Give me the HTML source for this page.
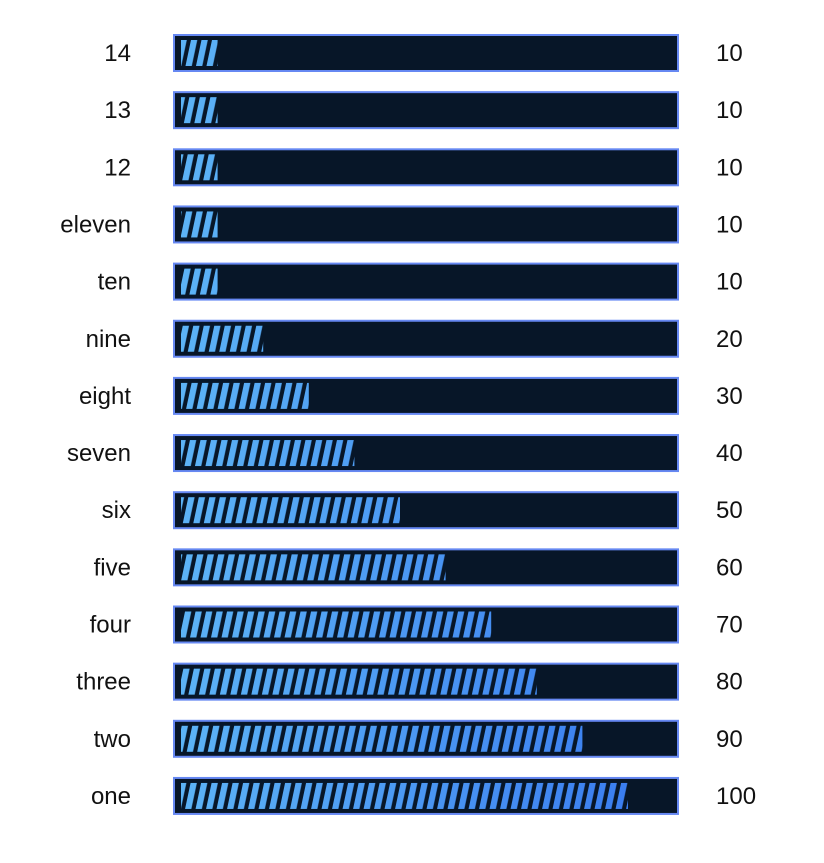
<!DOCTYPE html>
<html><head><meta charset="utf-8"><style>
body{margin:0;background:#fff;width:824px;height:858px;overflow:hidden;font-family:"Liberation Sans",sans-serif}
</style></head><body>
<svg id="chart" width="824" height="858" xmlns="http://www.w3.org/2000/svg">
<defs>
<linearGradient id="grad" x1="181" x2="627" gradientUnits="userSpaceOnUse">
<stop offset="0" stop-color="#5cb3f6"/><stop offset="1" stop-color="#3b7ef0"/>
</linearGradient>
<pattern id="stripes" patternUnits="userSpaceOnUse" width="10.5" height="40" patternTransform="skewX(-12)">
<rect x="0" y="0" width="6.3" height="40" fill="#fff"/>
</pattern>
<mask id="stripeMask" maskUnits="userSpaceOnUse" x="0" y="0" width="824" height="858">
<rect x="0" y="0" width="824" height="858" fill="url(#stripes)"/>
</mask>
</defs>
</svg>
<script>
const categories=["14","13","12","eleven","ten","nine","eight","seven","six","five","four","three","two","one"];
const values=[10,10,10,10,10,20,30,40,50,60,70,80,90,100];
const svg=document.getElementById('chart');
const NS='http://www.w3.org/2000/svg';
const x0=172, pxPer=4.56;
const xScale=v=>x0+v*pxPer;
const yCenter=i=>53+i*57.15;
categories.forEach((c,i)=>{
  const cy=yCenter(i);
  const frame=document.createElementNS(NS,'rect');
  
  
  frame.setAttribute('x',174);frame.setAttribute('y',cy-18);
  frame.setAttribute('width',504);frame.setAttribute('height',36);
  frame.setAttribute('fill','#071628');frame.setAttribute('stroke','#6688f2');frame.setAttribute('stroke-width',2);
  svg.appendChild(frame);
  const w=Math.max(0,xScale(values[i])-181);
  const bar=document.createElementNS(NS,'rect');
  
  
  bar.setAttribute('x',181);bar.setAttribute('y',cy-13);
  bar.setAttribute('width',w);bar.setAttribute('height',26);
  bar.setAttribute('fill','url(#grad)');
  bar.setAttribute('mask','url(#stripeMask)');
  svg.appendChild(bar);
  const lab=document.createElementNS(NS,'text');
  
  
  lab.setAttribute('x',131);lab.setAttribute('y',cy+8);
  lab.setAttribute('text-anchor','end');lab.setAttribute('font-size','24');lab.setAttribute('fill','#111');
  lab.textContent=c;svg.appendChild(lab);
  const val=document.createElementNS(NS,'text');
  
  
  val.setAttribute('x',716);val.setAttribute('y',cy+8);
  val.setAttribute('font-size','24');val.setAttribute('fill','#111');
  val.textContent=values[i];svg.appendChild(val);
});
</script>
</body></html>
